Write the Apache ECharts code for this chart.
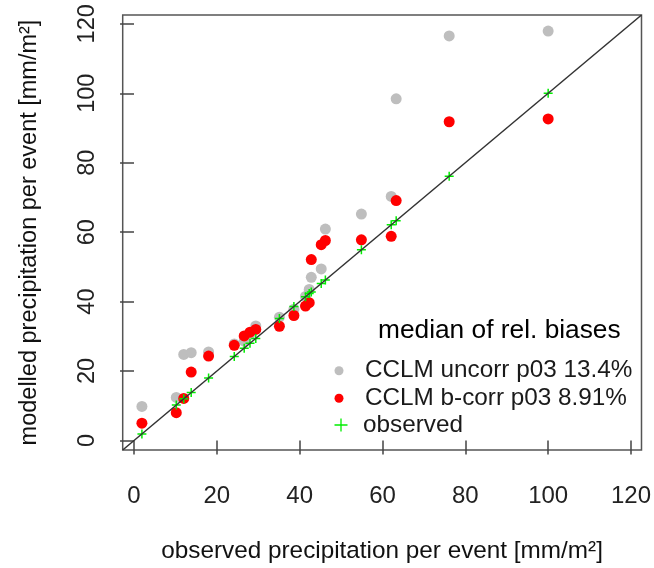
<!DOCTYPE html>
<html>
<head>
<meta charset="utf-8">
<script src="https://cdn.jsdelivr.net/npm/echarts@6/dist/echarts.min.js"></script>
<style>
  html, body { margin: 0; padding: 0; background: #fff; overflow: hidden; }
  #chart { width: 654px; height: 568px; }
</style>
</head>
<body>
<div id="chart"></div>
<script>
// observed precipitation per event [mm/m²]
const observed = [1.9, 10.2, 12.0, 13.8, 18.0, 24.2, 26.6, 28.0, 29.4, 35.1, 38.6,
                  41.4, 42.3, 42.8, 45.2, 46.2, 54.9, 62.1, 63.3, 76.1, 100.0];
// modelled precipitation, uncorrected CCLM
const uncorr = [9.8, 12.4, 24.8, 25.3, 25.5, 27.8, 28.6, 30.6, 33.0, 35.5, 37.8,
                41.5, 43.5, 47.0, 49.4, 60.9, 65.2, 70.3, 98.4, 116.5, 117.9];
// modelled precipitation, bias-corrected CCLM
const bcorr = [5.0, 8.0, 12.1, 19.7, 24.3, 27.4, 30.1, 31.2, 32.0, 32.9, 36.0,
               38.7, 39.7, 52.1, 56.4, 57.6, 57.8, 58.8, 69.1, 91.8, 92.6];

const tickValues = [0, 20, 40, 60, 80, 100, 120];
const seriesNames = ['CCLM uncorr p03 13.4%', 'CCLM b-corr p03 8.91%', 'observed'];
const legendTitle = 'median of rel. biases';
const xTitle = 'observed precipitation per event [mm/m²]';
const yTitle = 'modelled precipitation per event [mm/m²]';

// common range for both axes, padded by 4% on each side
const all = observed.concat(uncorr, bcorr);
const lo = Math.min(...all), hi = Math.max(...all);
const pad = 0.04 * (hi - lo);
const axMin = lo - pad, axMax = hi + pad;

const FONT = 'Liberation Sans, Arial, Helvetica, sans-serif';
const FS_V = 23.5;   // text running along the vertical axis
const FS_H = 24.3;   // horizontal text
const plusPath = 'path://M5,0h2v5h5v2h-5v5h-2v-5h-5v-2h5z';
const plusPathThin = 'path://M5.4,0h1.2v5.4h5.4v1.2h-5.4v5.4h-1.2v-5.4h-5.4v-1.2h5.4z';

const axisCommon = {
  type: 'value',
  min: axMin,
  max: axMax,
  splitLine: { show: false },
  axisLine: { show: false },
  axisTick: { show: true, length: 14, customValues: tickValues,
              lineStyle: { color: '#444', width: 1.5 } },
  nameLocation: 'middle'
};

const chart = echarts.init(document.getElementById('chart'), null, { renderer: 'canvas' });

const legendItem = (name, top, icon, w, h, padLeft) => ({
  data: [name],
  orient: 'vertical',
  left: 334.5,
  top: top,
  padding: 0,
  icon: icon,
  itemWidth: w,
  itemHeight: h,
  itemStyle: { opacity: 1 },
  textStyle: { fontSize: FS_H, fontFamily: FONT, color: '#1a1a1a', lineHeight: 28,
               padding: [0, 0, 0, padLeft] }
});

chart.setOption({
  animation: false,
  backgroundColor: '#fff',
  grid: { left: 122.7, top: 15, right: 8.6, bottom: 117.3, show: true,
          borderColor: '#555', borderWidth: 1.5 },
  title: {
    text: legendTitle, left: 378, top: 316, padding: 0,
    textStyle: { fontSize: 26.3, fontWeight: 'normal', fontFamily: FONT, color: '#000',
                 lineHeight: 30 }
  },
  legend: [
    legendItem(seriesNames[0], 356.7, 'circle', 9, 9, 16.5),
    legendItem(seriesNames[1], 384.3, 'circle', 9, 9, 16.5),
    legendItem(seriesNames[2], 411, plusPathThin, 13, 13, 10.5)
  ],
  xAxis: Object.assign({}, axisCommon, {
    name: xTitle, nameGap: 89,
    nameTextStyle: { color: '#111', fontSize: FS_H, fontFamily: FONT },
    axisLabel: { customValues: tickValues, color: '#222', fontSize: 24, fontFamily: FONT,
                 margin: 34 }
  }),
  yAxis: Object.assign({}, axisCommon, {
    name: yTitle, nameGap: 81, nameRotate: 90,
    nameTextStyle: { color: '#111', fontSize: FS_V, fontFamily: FONT },
    axisLabel: { customValues: tickValues, color: '#222', fontSize: FS_V, fontFamily: FONT,
                 rotate: 90, margin: 23 }
  }),
  series: [
    {
      name: seriesNames[0], type: 'scatter', symbol: 'circle', symbolSize: 11,
      itemStyle: { color: '#bebebe', opacity: 1 },
      data: observed.map((o, i) => [o, uncorr[i]])
    },
    {
      name: seriesNames[1], type: 'scatter', symbol: 'circle', symbolSize: 11,
      itemStyle: { color: '#ff0000', opacity: 1 },
      data: observed.map((o, i) => [o, bcorr[i]])
    },
    {
      // 1:1 reference line across the whole plot
      name: 'one-to-one', type: 'line', symbol: 'none', silent: true,
      lineStyle: { color: '#333', width: 1.5 },
      data: [[axMin, axMin], [axMax, axMax]]
    },
    {
      name: seriesNames[2], type: 'scatter', symbol: plusPath, symbolSize: 9,
      itemStyle: { color: '#00ee00', opacity: 1 },
      data: observed.map(o => [o, o])
    }
  ]
});
</script>
</body>
</html>
